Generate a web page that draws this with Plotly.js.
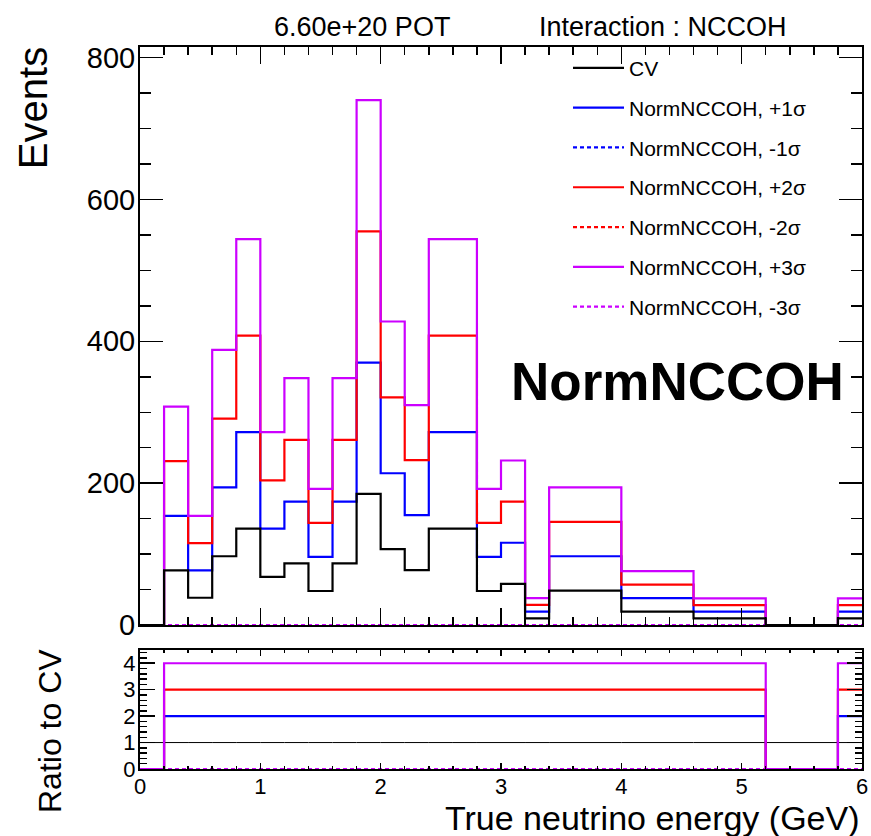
<!DOCTYPE html>
<html><head><meta charset="utf-8">
<script src="https://cdn.plot.ly/plotly-3.0.1.min.js"></script>
<style>html,body{margin:0;padding:0;background:#fff}</style>
</head><body><div id="chart" style="width:871px;height:836px"></div>
<script>
// Bin edges (GeV)
const binEdges = [0,0.2,0.4,0.6,0.8,1.0,1.2,1.4,1.6,1.8,2.0,2.2,2.4,2.6,2.8,3.0,3.2,3.4,4.0,4.6,5.2,5.8,6.0];
// Events per bin
const cvEvents     = [0,77,38.5,97,136,68,87,48,87,185,107,77.5,136,136,48,58,9.5,48.5,19,9.4,0,9.4];
const plus1Events  = [0,154,77,194,272,136,174,96,174,370,214,155,272,272,96,116,19,97,38,18.8,0,18.8];
const minus1Events = [0,0,0,0,0,0,0,0,0,0,0,0,0,0,0,0,0,0,0,0,0,0];
const plus2Events  = [0,231,115.5,291,408,204,261,144,261,555,321,232.5,408,408,144,174,28.5,145.5,57,28.2,0,28.2];
const minus2Events = [0,0,0,0,0,0,0,0,0,0,0,0,0,0,0,0,0,0,0,0,0,0];
const plus3Events  = [0,308,154,388,544,272,348,192,348,740,428,310,544,544,192,232,38,194,76,37.6,0,37.6];
const minus3Events = [0,0,0,0,0,0,0,0,0,0,0,0,0,0,0,0,0,0,0,0,0,0];
// Ratios to CV per bin
const ratioCV     = [1,1,1,1,1,1,1,1,1,1,1,1,1,1,1,1,1,1,1,1,1,1];
const ratioPlus1  = [0,2,2,2,2,2,2,2,2,2,2,2,2,2,2,2,2,2,2,2,0,2];
const ratioMinus1 = [0,0,0,0,0,0,0,0,0,0,0,0,0,0,0,0,0,0,0,0,0,0];
const ratioPlus2  = [0,3,3,3,3,3,3,3,3,3,3,3,3,3,3,3,3,3,3,3,0,3];
const ratioMinus2 = [0,0,0,0,0,0,0,0,0,0,0,0,0,0,0,0,0,0,0,0,0,0];
const ratioPlus3  = [0,4,4,4,4,4,4,4,4,4,4,4,4,4,4,4,4,4,4,4,0,4];
const ratioMinus3 = [0,0,0,0,0,0,0,0,0,0,0,0,0,0,0,0,0,0,0,0,0,0];
const legendNames = ["CV","NormNCCOH, +1σ","NormNCCOH, -1σ","NormNCCOH, +2σ","NormNCCOH, -2σ","NormNCCOH, +3σ","NormNCCOH, -3σ"];

const BLUE = '#0000ff', RED = '#ff0000', VIO = '#cc00ff', BLK = '#000000';
const DASH = '4px,3px';
function stepY(v){ return v.concat([v[v.length-1]]); }

function hist(vals, name, color, dash, rank, yaxis, show, width){
  return {
    type:'scatter', mode:'lines', x: binEdges, y: stepY(vals),
    line:{shape:'hv', color: color, width: width || 2.2, dash: dash},
    name: name, legendgroup: 'g'+rank, legendrank: rank, showlegend: show,
    xaxis: yaxis==='y' ? 'x' : 'x2', yaxis: yaxis, hoverinfo:'skip'
  };
}

const data = [
  hist(plus1Events,  legendNames[1], BLUE, 'solid', 2, 'y', true),
  hist(minus1Events, legendNames[2], BLUE, DASH,    3, 'y', true),
  hist(plus2Events,  legendNames[3], RED,  'solid', 4, 'y', true),
  hist(minus2Events, legendNames[4], RED,  DASH,    5, 'y', true),
  hist(plus3Events,  legendNames[5], VIO,  'solid', 6, 'y', true),
  hist(minus3Events, legendNames[6], VIO,  DASH,    7, 'y', true),
  hist(cvEvents,     legendNames[0], BLK,  'solid', 1, 'y', true),
  hist(ratioCV,     'r0', BLK,  'solid', 11, 'y2', false, 1),
  hist(ratioPlus1,  'r1', BLUE, 'solid', 12, 'y2', false),
  hist(ratioMinus1, 'r2', BLUE, DASH,    13, 'y2', false),
  hist(ratioPlus2,  'r3', RED,  'solid', 14, 'y2', false),
  hist(ratioMinus2, 'r4', RED,  DASH,    15, 'y2', false),
  hist(ratioPlus3,  'r5', VIO,  'solid', 16, 'y2', false),
  hist(ratioMinus3, 'r6', VIO,  DASH,    17, 'y2', false)
];

const FONT = 'Liberation Sans, Arial, Helvetica, sans-serif';
const axBase = {showline:true, linecolor:'#000', linewidth:2, mirror:'ticks', ticks:'inside',
  tickcolor:'#000', showgrid:false, zeroline:false, tickfont:{family:FONT, size:22, color:'#000'}};

const layout = {
  width:871, height:836,
  margin:{l:140, r:9, t:47, b:67},
  paper_bgcolor:'#fff', plot_bgcolor:'#fff',
  font:{family:FONT, color:'#000'},
  showlegend:true,
  legend:{x:0.5928, y:0.999, xanchor:'left', yanchor:'top', bgcolor:'rgba(0,0,0,0)',
    font:{family:FONT, size:21, color:'#000'}, traceorder:'grouped', tracegroupgap:9.5, itemwidth:51},
  xaxis: Object.assign({}, axBase, {domain:[0,1], anchor:'y', range:[0,6], dtick:1, tick0:0,
    ticklen:17, tickwidth:1.5, showticklabels:false,
    minor:{dtick:0.2, ticks:'inside', ticklen:8, tickcolor:'#000', tickwidth:1.5}}),
  yaxis: Object.assign({}, axBase, {domain:[0.1994,1], anchor:'x', range:[0,815], dtick:200, tick0:0,
    ticklen:23, tickwidth:1.5, ticklabelstandoff:-3, tickfont:{family:FONT, size:29, color:'#000'},
    minor:{dtick:50, ticks:'inside', ticklen:11, tickcolor:'#000', tickwidth:1.5}}),
  xaxis2: Object.assign({}, axBase, {domain:[0,1], anchor:'y2', range:[0,6], dtick:1, tick0:0,
    ticklen:6, tickwidth:1.5, ticklabelstandoff:-3,
    minor:{dtick:0.2, ticks:'inside', ticklen:3, tickcolor:'#000', tickwidth:1.5}}),
  yaxis2: Object.assign({}, axBase, {domain:[0,0.1648], anchor:'x2', range:[0,4.5], dtick:1, tick0:0,
    ticklen:15, tickwidth:1.5, ticklabelstandoff:-2,
    minor:{dtick:0.2, ticks:'inside', ticklen:7, tickcolor:'#000', tickwidth:1.5}}),
  annotations:[
    {xref:'paper', yref:'paper', x:0.3075, y:1.0277, xanchor:'center', yanchor:'middle', showarrow:false,
     text:'6.60e+20 POT', font:{family:FONT, size:27, color:'#000'}},
    {xref:'paper', yref:'paper', x:0.7244, y:1.0277, xanchor:'center', yanchor:'middle', showarrow:false,
     text:'Interaction : NCCOH', font:{family:FONT, size:27, color:'#000'}},
    {xref:'paper', yref:'paper', x:0.745, y:0.537, xanchor:'center', yanchor:'middle', showarrow:false,
     text:'<b>NormNCCOH</b>', font:{family:FONT, size:53, color:'#000'}},
    {xref:'paper', yref:'paper', x:-0.148, y:0.9155, xanchor:'center', yanchor:'middle', showarrow:false,
     textangle:-90, text:'Events', font:{family:FONT, size:40, color:'#000'}},
    {xref:'paper', yref:'paper', x:-0.1247, y:0.0526, xanchor:'center', yanchor:'middle', showarrow:false,
     textangle:-90, text:'Ratio to CV', font:{family:FONT, size:32, color:'#000'}},
    {xref:'paper', yref:'paper', x:1.0, y:-0.0679, xanchor:'right', yanchor:'middle', showarrow:false,
     text:'True neutrino energy (GeV)', font:{family:FONT, size:34, color:'#000'}}
  ]
};

Plotly.newPlot('chart', data, layout, {displayModeBar:false, staticPlot:true});
</script></body></html>
